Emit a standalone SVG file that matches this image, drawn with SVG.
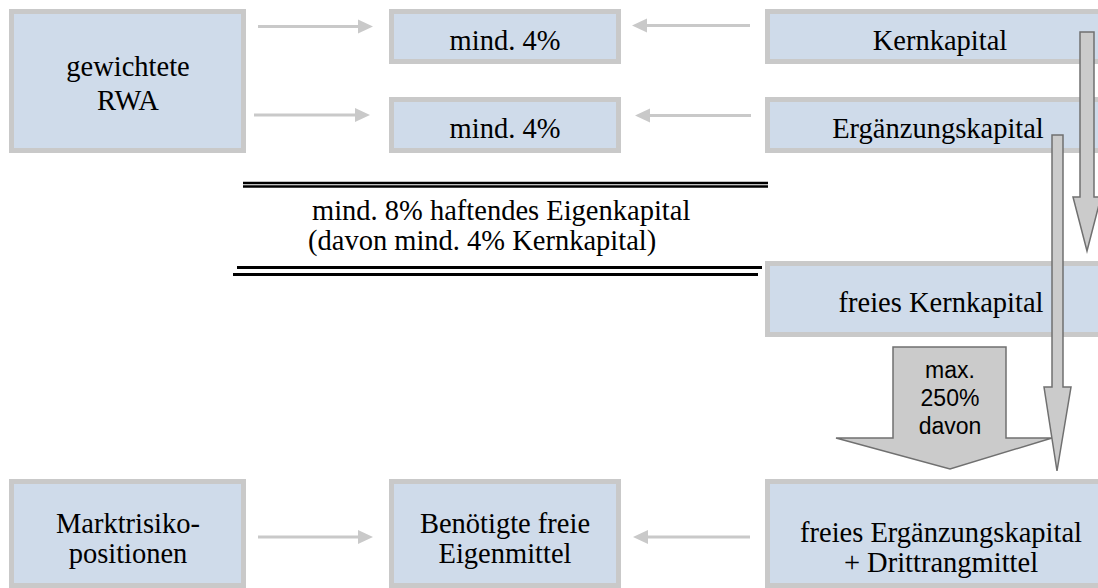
<svg xmlns="http://www.w3.org/2000/svg" width="1098" height="588" viewBox="0 0 1098 588">
  <defs>
    <style>
      .box { fill: #cfdbea; stroke: #c9c9c9; stroke-width: 5; }
      .t { font-family: "Liberation Serif", "Times New Roman", serif; font-size: 28.5px; fill: #000; text-anchor: middle; }
      .ts { font-family: "Liberation Sans", Arial, sans-serif; font-size: 23px; fill: #000; text-anchor: middle; }
      .st { text-anchor: start; }
      .conn { stroke: #c9c9c9; stroke-width: 3; fill: none; }
      .head { fill: #c9c9c9; }
      .big { fill: #cbcbcb; stroke: #707070; stroke-width: 1.5; stroke-linejoin: miter; }
      .dl { stroke: #000; fill: none; }
    </style>
  </defs>
  <rect width="1098" height="588" fill="#fff"/>

  <g id="connectors">
    <line class="conn" x1="258" y1="26.5" x2="359" y2="26.5"/>
    <polygon class="head" points="358,19.5 373,26.5 358,33.5"/>
    <line class="conn" x1="254" y1="115" x2="356" y2="115"/>
    <polygon class="head" points="355,108 370,115 355,122"/>
    <line class="conn" x1="750" y1="25.5" x2="646" y2="25.5"/>
    <polygon class="head" points="647,18.5 632,25.5 647,32.5"/>
    <line class="conn" x1="751" y1="115.5" x2="649" y2="115.5"/>
    <polygon class="head" points="650,108.5 635,115.5 650,122.5"/>
    <line class="conn" x1="258" y1="537" x2="359" y2="537"/>
    <polygon class="head" points="358,530 373,537 358,544"/>
    <line class="conn" x1="750" y1="537" x2="647" y2="537"/>
    <polygon class="head" points="648,530 633,537 648,544"/>
  </g>

  <g id="rwa">
    <rect class="box" x="11.5" y="11.5" width="232" height="139"/>
    <text class="t" x="128" y="76">gewichtete</text>
    <text class="t" x="128" y="110">RWA</text>
  </g>
  <g id="mind-top">
    <rect class="box" x="391.5" y="11.5" width="227" height="50"/>
    <text class="t" x="505" y="50">mind. 4%</text>
  </g>
  <g id="mind-bottom">
    <rect class="box" x="391.5" y="99.5" width="227" height="51"/>
    <text class="t" x="505" y="138">mind. 4%</text>
  </g>
  <g id="kernkapital">
    <rect class="box" x="767.5" y="11.5" width="341" height="50"/>
    <text class="t" x="940" y="50">Kernkapital</text>
  </g>
  <g id="ergaenzungskapital">
    <rect class="box" x="767.5" y="99.5" width="341" height="51"/>
    <text class="t" x="938" y="138">Ergänzungskapital</text>
  </g>
  <g id="summary">
    <line class="dl" x1="243" y1="183" x2="768" y2="183" stroke-width="2.5"/>
    <line class="dl" x1="243" y1="186.5" x2="768" y2="186.5" stroke-width="2.5"/>
    <line class="dl" x1="237" y1="267.5" x2="762" y2="267.5" stroke-width="3"/>
    <line class="dl" x1="233" y1="274.5" x2="758" y2="274.5" stroke-width="3"/>
    <text class="t st" x="312" y="220">mind. 8% haftendes Eigenkapital</text>
    <text class="t st" x="308" y="250">(davon mind. 4% Kernkapital)</text>
  </g>
  <g id="freies-kernkapital">
    <rect class="box" x="767.5" y="263.5" width="341" height="71"/>
    <text class="t" x="941" y="312">freies Kernkapital</text>
  </g>
  <g id="marktrisiko">
    <rect class="box" x="11.5" y="481.5" width="232" height="104"/>
    <text class="t" x="128" y="533">Marktrisiko-</text>
    <text class="t" x="128" y="563">positionen</text>
  </g>
  <g id="benoetigte">
    <rect class="box" x="391.5" y="481.5" width="227" height="104"/>
    <text class="t" x="505" y="533">Benötigte freie</text>
    <text class="t" x="505" y="563">Eigenmittel</text>
  </g>
  <g id="freies-ergaenzungskapital">
    <rect class="box" x="767.5" y="481.5" width="341" height="104"/>
    <text class="t" x="941" y="542">freies Ergänzungskapital</text>
    <text class="t" x="941" y="572">+ Drittrangmittel</text>
  </g>

  <g id="big-arrow">
    <polygon class="big" points="893,347 1006,347 1006,438 1052,438 950,469 836,438 893,438"/>
    <text class="ts" x="950" y="378">max.</text>
    <text class="ts" x="950" y="406">250%</text>
    <text class="ts" x="950" y="434">davon</text>
  </g>
  <g id="arrow-kern">
    <polygon class="big" points="1080,32 1094,32 1094,197 1101,197 1087,251 1073,197 1080,197"/>
  </g>
  <g id="arrow-ergaenzung">
    <polygon class="big" points="1052,135 1063,135 1063,387 1071,387 1057,471 1044,387 1052,387"/>
  </g>
</svg>
